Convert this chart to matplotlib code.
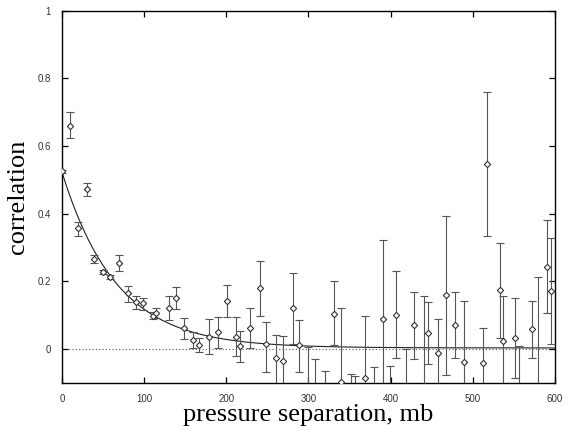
import numpy as np
import matplotlib
matplotlib.use("Agg")
import matplotlib.pyplot as plt

# pressure separation (mb) and measured correlation with error bar limits
sep = [0, 10, 20, 31, 39, 50, 58, 69, 80, 90, 99, 111, 115, 130, 139, 149,
       160, 167, 179, 190, 201, 212, 217, 229, 241, 248, 261, 269, 281, 288,
       300, 308, 320, 331, 340, 352, 357, 369, 380, 391, 399, 407, 419, 428,
       441, 446, 458, 467, 479, 489, 512, 518, 533, 537, 551, 556, 572, 580,
       591, 596]
corr = [0.525, 0.66, 0.357, 0.472, 0.265, 0.228, 0.213, 0.254, 0.165, 0.139,
        0.136, 0.097, 0.106, 0.121, 0.15, 0.061, 0.026, 0.012, 0.036, 0.05,
        0.142, 0.036, 0.01, 0.062, 0.18, 0.015, -0.027, -0.035, 0.12, 0.012,
        -0.12, -0.14, -0.15, 0.103, -0.098, -0.16, -0.16, -0.085, -0.15, 0.088,
        -0.15, 0.1, -0.13, 0.07, -0.11, 0.047, -0.012, 0.16, 0.071, -0.038,
        -0.041, 0.548, 0.174, 0.024, 0.032, -0.13, 0.058, -0.14, 0.242, 0.171]
corr_lo = [0.52, 0.625, 0.334, 0.452, 0.254, 0.222, 0.208, 0.23, 0.139, 0.118,
           0.115, 0.088, 0.091, 0.086, 0.118, 0.03, 0.003, -0.01, -0.015, 0.003,
           0.094, -0.02, -0.04, 0.003, 0.098, -0.068, -0.12, -0.12, 0.015, -0.068,
           -0.25, -0.25, -0.25, 0.012, -0.3, -0.25, -0.25, -0.27, -0.25, -0.15,
           -0.25, -0.027, -0.26, -0.03, -0.38, -0.045, -0.11, -0.077, -0.027, -0.22,
           -0.14, 0.333, 0.033, -0.11, -0.085, -0.27, -0.027, -0.5, 0.106, 0.015]
corr_hi = [0.53, 0.70, 0.375, 0.492, 0.278, 0.234, 0.218, 0.277, 0.186, 0.156,
           0.15, 0.109, 0.121, 0.157, 0.183, 0.092, 0.05, 0.032, 0.088, 0.094,
           0.19, 0.094, 0.053, 0.12, 0.26, 0.08, 0.042, 0.038, 0.224, 0.085,
           0.006, -0.03, -0.065, 0.2, 0.12, -0.075, -0.08, 0.097, -0.053, 0.322,
           -0.05, 0.23, 0.0, 0.168, 0.157, 0.14, 0.088, 0.393, 0.168, 0.142,
           0.062, 0.76, 0.313, 0.157, 0.15, 0.009, 0.142, 0.212, 0.38, 0.327]

# exponential fit: corr = amp * exp(-sep / scale) + offset
fit_amp = 0.52
fit_scale = 66.0
fit_offset = 0.003

x = np.array(sep)
y = np.array(corr)
err = [y - np.array(corr_lo), np.array(corr_hi) - y]

fig = plt.figure(figsize=(5.69, 4.33), dpi=100)
ax = fig.add_axes([0.109, 0.116, 0.866, 0.859])

ax.axhline(0, color="#555555", lw=0.8, ls=(0, (1, 2)), zorder=1)

xs = np.linspace(0, 600, 400)
ax.plot(xs, fit_amp * np.exp(-xs / fit_scale) + fit_offset,
        color="#222222", lw=0.8, zorder=2)

ax.errorbar(x, y, yerr=err, fmt="D", ms=3.2, mfc="white", mec="#333333",
            mew=0.8, ecolor="#555555", elinewidth=0.8, capsize=2.8,
            capthick=0.8, zorder=3)

ax.set_xlim(0, 600)
ax.set_ylim(-0.1, 1)
ax.set_xticks([0, 100, 200, 300, 400, 500, 600])
ax.set_yticks([0, 0.2, 0.4, 0.6, 0.8, 1])
ax.set_yticklabels(["0", "0.2", "0.4", "0.6", "0.8", "1"])
ax.tick_params(direction="in", length=4, width=0.9, top=True, right=True,
               labelsize=7, labelcolor="#333333", pad=8)
for s in ax.spines.values():
    s.set_linewidth(1.0)

ax.set_xlabel("pressure separation, mb", family="Liberation Serif",
              fontsize=19, labelpad=0)
ax.set_ylabel("correlation", family="Liberation Serif", fontsize=19,
              labelpad=6)
for lab in ax.get_xticklabels() + ax.get_yticklabels():
    lab.set_family("Liberation Sans")

fig.savefig("out.png", dpi=100)
